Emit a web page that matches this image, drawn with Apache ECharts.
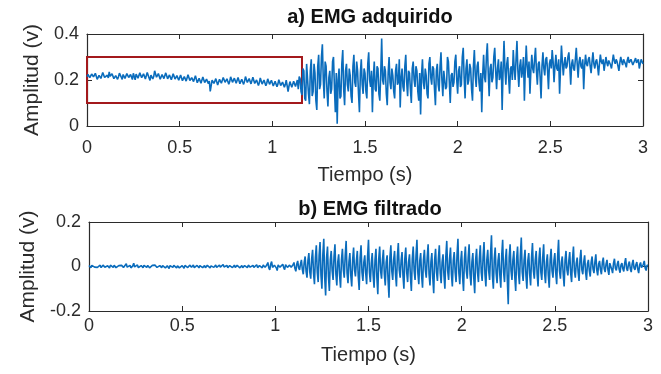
<!DOCTYPE html>
<html>
<head>
<meta charset="utf-8">
<script src="https://cdn.jsdelivr.net/npm/echarts@6/dist/echarts.min.js"></script>
<style>
  html, body { margin: 0; padding: 0; background: #fff; }
  #chart { width: 661px; height: 374px; }
</style>
</head>
<body>
<div id="chart"></div>
<script>
// sample spacing of both traces (s)
const sampleStep = 0.005;

// a) EMG adquirido, one value per 5 ms (20 per row = 0.1 s)
const rawEmg = [
  0.215,0.224,0.228,0.210,0.205,0.226,0.232,0.214,0.210,0.229,0.224,0.203,0.199,0.220,0.226,0.207,0.212,0.233,0.230,0.211,
  0.204,0.218,0.221,0.209,0.235,0.216,0.208,0.227,0.226,0.206,0.200,0.219,0.222,0.203,0.214,0.230,0.231,0.212,0.203,0.224,
  0.225,0.207,0.210,0.228,0.233,0.211,0.206,0.224,0.219,0.202,0.229,0.215,0.201,0.226,0.223,0.208,0.213,0.231,0.236,0.210,
  0.207,0.227,0.224,0.204,0.211,0.233,0.230,0.209,0.198,0.221,0.222,0.205,0.215,0.240,0.238,0.212,0.209,0.228,0.226,0.203,
  0.203,0.224,0.221,0.206,0.212,0.231,0.229,0.205,0.200,0.222,0.218,0.201,0.208,0.227,0.225,0.204,0.196,0.219,0.220,0.199,
  0.206,0.222,0.218,0.197,0.193,0.215,0.214,0.195,0.201,0.223,0.219,0.198,0.190,0.210,0.211,0.193,0.198,0.219,0.216,0.188,
  0.185,0.207,0.205,0.186,0.192,0.213,0.210,0.189,0.183,0.204,0.202,0.184,0.195,0.150,0.176,0.199,0.204,0.185,0.188,0.206,
  0.199,0.178,0.180,0.203,0.207,0.186,0.189,0.211,0.212,0.190,0.184,0.205,0.201,0.181,0.193,0.214,0.215,0.190,0.186,0.208,
  0.205,0.186,0.190,0.211,0.209,0.184,0.182,0.203,0.200,0.181,0.194,0.215,0.213,0.189,0.185,0.206,0.203,0.183,0.191,0.212,
  0.208,0.185,0.181,0.200,0.198,0.176,0.189,0.209,0.206,0.182,0.178,0.200,0.197,0.175,0.186,0.205,0.202,0.181,0.180,0.199,
  0.195,0.174,0.176,0.194,0.190,0.171,0.182,0.201,0.199,0.176,0.172,0.191,0.188,0.168,0.180,0.199,0.196,0.150,0.174,0.193,
  0.187,0.168,0.170,0.195,0.192,0.172,0.176,0.200,0.160,0.215,0.205,0.150,0.135,0.250,0.240,0.120,0.110,0.270,0.265,0.140,
  0.095,0.240,0.290,0.130,0.150,0.270,0.230,0.110,0.070,0.260,0.310,0.160,0.180,0.300,0.355,0.200,0.120,0.280,0.260,0.150,
  0.085,0.210,0.240,0.140,0.160,0.280,0.300,0.170,0.060,0.230,0.010,0.200,0.250,0.120,0.130,0.270,0.330,0.160,0.090,0.240,
  0.270,0.180,0.150,0.250,0.220,0.130,0.100,0.260,0.310,0.190,0.170,0.280,0.240,0.140,0.060,0.230,0.290,0.180,0.140,0.250,
  0.230,0.150,0.120,0.270,0.320,0.200,0.170,0.240,0.060,0.210,0.280,0.160,0.150,0.260,0.250,0.140,0.110,0.230,0.380,0.200,
  0.180,0.260,0.240,0.140,0.090,0.230,0.300,0.190,0.160,0.250,0.220,0.150,0.120,0.240,0.270,0.180,0.190,0.290,0.080,0.210,
  0.250,0.170,0.150,0.260,0.310,0.190,0.130,0.240,0.230,0.160,0.100,0.250,0.280,0.200,0.170,0.260,0.240,0.150,0.110,0.230,
  0.050,0.220,0.290,0.190,0.160,0.250,0.220,0.140,0.120,0.270,0.300,0.210,0.180,0.260,0.250,0.160,0.090,0.240,0.270,0.180,
  0.150,0.260,0.320,0.200,0.130,0.240,0.240,0.160,0.170,0.300,0.280,0.190,0.100,0.220,0.230,0.170,0.190,0.280,0.310,0.200,
  0.140,0.240,0.260,0.170,0.180,0.300,0.340,0.210,0.120,0.250,0.290,0.180,0.200,0.270,0.250,0.160,0.110,0.260,0.330,0.220,
  0.170,0.260,0.280,0.190,0.150,0.230,0.060,0.220,0.310,0.210,0.190,0.300,0.360,0.230,0.130,0.250,0.270,0.190,0.210,0.300,
  0.340,0.240,0.160,0.250,0.290,0.200,0.220,0.280,0.070,0.240,0.370,0.250,0.180,0.270,0.300,0.210,0.140,0.250,0.260,0.200,
  0.330,0.250,0.200,0.290,0.370,0.240,0.170,0.260,0.290,0.210,0.240,0.300,0.110,0.250,0.350,0.260,0.210,0.280,0.140,0.240,
  0.310,0.250,0.230,0.290,0.340,0.240,0.180,0.270,0.280,0.210,0.120,0.260,0.320,0.250,0.220,0.290,0.300,0.240,0.160,0.270,
  0.290,0.250,0.330,0.280,0.190,0.260,0.310,0.250,0.240,0.290,0.140,0.250,0.350,0.280,0.220,0.270,0.300,0.250,0.260,0.300,
  0.320,0.260,0.180,0.270,0.290,0.250,0.240,0.290,0.340,0.270,0.210,0.280,0.300,0.260,0.250,0.290,0.160,0.260,0.310,0.270,
  0.260,0.290,0.300,0.260,0.230,0.280,0.320,0.270,0.250,0.280,0.290,0.260,0.220,0.270,0.310,0.280,0.270,0.290,0.240,0.270,
  0.300,0.275,0.260,0.285,0.290,0.265,0.250,0.280,0.310,0.285,0.270,0.290,0.280,0.260,0.240,0.275,0.300,0.280,0.265,0.290,
  0.290,0.270,0.255,0.285,0.300,0.275,0.270,0.290,0.285,0.265,0.260,0.285,0.295,0.275,0.275,0.290,0.250,0.270,0.290,0.280,
  0.270
];

// b) EMG filtrado, one value per 5 ms
const filteredEmg = [
  0.004,-0.003,-0.006,0.005,0.008,-0.002,-0.003,0.004,0.005,-0.004,-0.008,0.003,0.006,-0.005,-0.004,0.006,0.009,-0.003,-0.005,0.004,
  0.003,-0.004,-0.007,0.006,0.010,-0.002,-0.004,0.005,0.006,-0.005,-0.009,0.002,0.004,-0.003,-0.002,0.005,0.007,-0.004,-0.006,0.003,
  0.012,-0.003,-0.008,0.004,0.005,-0.006,-0.010,0.003,0.015,-0.002,-0.005,0.004,0.007,-0.005,-0.009,0.002,0.004,-0.003,-0.006,0.005,
  0.008,-0.002,-0.004,0.005,0.006,-0.006,-0.011,0.002,0.005,-0.002,-0.003,0.006,0.009,-0.004,-0.007,0.003,0.004,-0.003,-0.005,0.004,
  0.007,-0.003,-0.006,0.002,0.003,-0.005,-0.009,0.004,0.006,-0.002,-0.004,0.005,0.008,-0.003,-0.006,0.003,0.005,-0.006,-0.012,0.002,
  0.004,-0.004,-0.008,0.005,0.009,-0.002,-0.005,0.003,0.006,-0.002,-0.003,0.004,0.007,-0.005,-0.010,0.002,0.005,-0.003,-0.006,0.004,
  0.008,-0.002,-0.005,0.002,0.004,-0.005,-0.009,0.005,0.010,-0.003,-0.006,0.003,0.005,-0.002,-0.004,0.004,0.007,-0.004,-0.008,0.003,
  0.006,-0.003,-0.007,0.005,0.009,-0.002,-0.004,0.003,0.005,-0.006,-0.011,0.004,0.008,-0.002,-0.005,0.003,0.006,-0.004,-0.007,0.005,
  0.009,-0.003,-0.006,0.002,0.004,-0.005,-0.010,0.004,0.007,-0.002,-0.005,0.006,0.011,-0.003,-0.007,0.002,0.005,-0.004,-0.009,0.004,
  0.008,-0.005,-0.012,0.004,0.010,-0.002,-0.006,0.007,0.014,-0.004,-0.009,0.008,0.018,-0.006,-0.015,0.010,0.022,-0.004,-0.010,0.006,
  0.012,-0.006,-0.018,0.007,0.015,-0.003,-0.008,0.004,0.010,-0.005,-0.014,0.008,0.016,-0.004,-0.011,0.006,0.013,-0.003,-0.009,0.008,
  0.018,-0.008,-0.022,0.010,0.025,-0.006,-0.015,0.012,0.030,-0.014,-0.035,0.020,0.045,-0.022,-0.050,0.028,0.060,-0.025,-0.055,0.035,
  0.075,-0.030,-0.080,0.040,0.095,-0.025,-0.070,0.050,0.110,-0.040,-0.100,0.055,0.125,-0.050,-0.130,0.040,0.090,-0.045,-0.110,0.030,
  0.070,-0.020,-0.060,0.045,0.100,-0.035,-0.085,0.020,0.055,-0.040,-0.095,0.030,0.080,-0.015,-0.050,0.050,0.115,-0.030,-0.075,0.020,
  0.060,-0.040,-0.090,0.030,0.085,-0.015,-0.045,0.025,0.070,-0.045,-0.105,0.040,0.095,-0.025,-0.065,0.020,0.050,-0.030,-0.080,0.045,
  0.120,-0.025,-0.070,0.015,0.060,-0.040,-0.095,0.030,0.080,-0.050,-0.125,0.035,0.090,-0.020,-0.055,0.030,0.075,-0.035,-0.085,0.020,
  0.050,-0.060,-0.140,0.040,0.095,-0.020,-0.060,0.030,0.070,-0.035,-0.090,0.045,0.105,-0.015,-0.050,0.025,0.065,-0.040,-0.100,0.035,
  0.085,-0.025,-0.070,0.020,0.055,-0.045,-0.110,0.035,0.090,-0.020,-0.060,0.050,0.120,-0.030,-0.080,0.025,0.060,-0.040,-0.095,0.030,
  0.075,-0.015,-0.050,0.040,0.100,-0.035,-0.085,0.020,0.060,-0.050,-0.120,0.030,0.080,-0.025,-0.065,0.035,0.095,-0.030,-0.075,0.020,
  0.055,-0.040,-0.100,0.045,0.115,-0.020,-0.060,0.035,0.085,-0.035,-0.090,0.025,0.065,-0.025,-0.070,0.050,0.125,-0.030,-0.080,0.025,
  0.070,-0.045,-0.110,0.035,0.090,-0.020,-0.055,0.040,0.100,-0.035,-0.085,0.020,0.060,-0.050,-0.120,0.030,0.080,-0.025,-0.070,0.035,
  0.095,-0.025,-0.065,0.045,0.110,-0.035,-0.090,0.030,0.075,-0.020,-0.060,0.055,0.140,-0.040,-0.100,0.035,0.085,-0.030,-0.075,0.025,
  0.060,-0.040,-0.095,0.050,0.120,-0.025,-0.070,0.030,0.080,-0.060,-0.170,0.040,0.100,-0.020,-0.060,0.030,0.070,-0.045,-0.110,0.035,
  0.090,-0.030,-0.080,0.050,0.130,-0.025,-0.065,0.030,0.075,-0.040,-0.100,0.025,0.060,-0.035,-0.085,0.040,0.105,-0.020,-0.055,0.030,
  0.070,-0.035,-0.090,0.035,0.085,-0.025,-0.060,0.040,0.100,-0.030,-0.075,0.020,0.055,-0.040,-0.095,0.030,0.080,-0.020,-0.050,0.025,
  0.060,-0.030,-0.080,0.045,0.120,-0.020,-0.055,0.020,0.045,-0.035,-0.090,0.030,0.070,-0.015,-0.040,0.025,0.065,-0.030,-0.070,0.035,
  0.090,-0.020,-0.050,0.015,0.040,-0.025,-0.065,0.030,0.075,-0.015,-0.035,0.020,0.050,-0.025,-0.060,0.012,0.030,-0.018,-0.045,0.020,
  0.045,-0.012,-0.030,0.020,0.055,-0.015,-0.040,0.010,0.025,-0.015,-0.035,0.018,0.040,-0.010,-0.025,0.012,0.030,-0.015,-0.038,0.015,
  0.020,-0.012,-0.030,0.015,0.035,-0.008,-0.018,0.010,0.025,-0.012,-0.028,0.006,0.015,-0.010,-0.022,0.015,0.038,-0.008,-0.020,0.010,
  0.022,-0.010,-0.025,0.012,0.030,-0.006,-0.015,0.008,0.020,-0.012,-0.030,0.008,0.018,-0.005,-0.012,0.010,0.025,-0.008,-0.018,0.006,
  0.005
];

// highlighted window on the raw signal: [time, amplitude] corners
const redBox = [[0, 0.1], [1.16, 0.3]];

const titles = ['a) EMG adquirido', 'b) EMG filtrado'];
const xLabel = 'Tiempo (s)';
const yLabel = 'Amplitud (v)';

const toPairs = (values) => values.map((v, i) => [+(i * sampleStep).toFixed(3), v]);

const FONT = '"Liberation Sans", Arial, sans-serif';
const INK = '#2b2b2b';
const LINE = '#0a6cbc';

const chart = echarts.init(document.getElementById('chart'), null, { renderer: 'canvas' });

const frameLine = { show: true, onZero: false, lineStyle: { color: INK, width: 1.2 } };
const innerTick = { show: true, inside: true, length: 5, lineStyle: { color: INK } };

// labelled x axis at the bottom + a mirror on top for the matlab box
const xPair = (gridIndex, labelMargin, nameGap) => [
  {
    type: 'value', gridIndex, min: 0, max: 3, interval: 0.5, position: 'bottom',
    name: xLabel, nameLocation: 'middle', nameGap,
    nameTextStyle: { fontFamily: FONT, fontSize: 20, color: INK },
    axisLine: frameLine, axisTick: innerTick,
    axisLabel: { fontFamily: FONT, fontSize: 18, color: INK, margin: labelMargin },
    splitLine: { show: false },
  },
  {
    type: 'value', gridIndex, min: 0, max: 3, interval: 0.5, position: 'top',
    axisLine: frameLine, axisTick: innerTick,
    axisLabel: { show: false },
    splitLine: { show: false },
  },
];

const yPair = (gridIndex, min, max) => [
  {
    type: 'value', gridIndex, min, max, interval: 0.2, position: 'left',
    name: yLabel, nameLocation: 'middle', nameGap: 40,
    nameTextStyle: { fontFamily: FONT, fontSize: 21, color: INK },
    axisLine: frameLine, axisTick: innerTick,
    axisLabel: { fontFamily: FONT, fontSize: 18, color: INK, margin: 8 },
    splitLine: { show: false },
  },
  {
    type: 'value', gridIndex, min, max, interval: 0.2, position: 'right',
    axisLine: frameLine, axisTick: innerTick,
    axisLabel: { show: false },
    splitLine: { show: false },
  },
];

chart.setOption({
  animation: false,
  backgroundColor: '#fff',
  title: [
    { text: titles[0], left: 365, top: 2, textAlign: 'center',
      textStyle: { fontFamily: FONT, fontSize: 20, fontWeight: 'bold', color: '#111' } },
    { text: titles[1], left: 365, top: 194, textAlign: 'center',
      textStyle: { fontFamily: FONT, fontSize: 20, fontWeight: 'bold', color: '#111' } },
  ],
  grid: [
    { left: 87, right: 18, top: 34, height: 92 },
    { left: 89, right: 13, top: 222, height: 89 },
  ],
  xAxis: [...xPair(0, 13, 39), ...xPair(1, 6, 34)],
  yAxis: [...yPair(0, 0, 0.4), ...yPair(1, -0.2, 0.2)],
  series: [
    {
      type: 'line', xAxisIndex: 0, yAxisIndex: 0,
      data: toPairs(rawEmg),
      showSymbol: false, sampling: null, clip: true,
      lineStyle: { color: LINE, width: 1.6 },
      markArea: {
        silent: true,
        itemStyle: { color: 'rgba(0,0,0,0)', borderColor: '#a3191c', borderWidth: 2 },
        data: [[{ coord: redBox[0] }, { coord: redBox[1] }]],
      },
      z: 3,
    },
    {
      type: 'line', xAxisIndex: 2, yAxisIndex: 2,
      data: toPairs(filteredEmg),
      showSymbol: false, sampling: null, clip: true,
      lineStyle: { color: LINE, width: 1.6 },
      z: 3,
    },
  ],
});
</script>
</body>
</html>
